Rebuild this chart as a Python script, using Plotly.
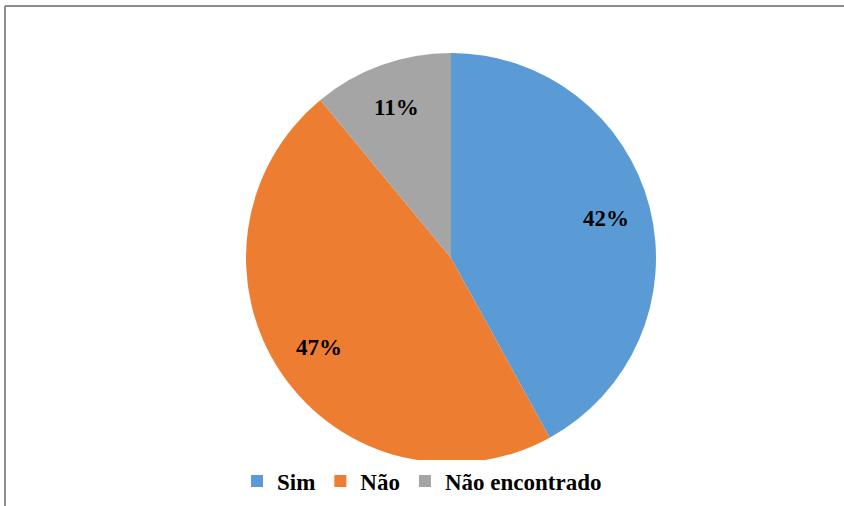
import math
import plotly.graph_objects as go

labels = ["Sim", "Não", "Não encontrado"]
values = [42, 47, 11]
colors = ["#5B9BD5", "#ED7D31", "#A5A5A5"]

W, H = 844, 506
font = "Liberation Serif"

# pie geometry in pixels
cx, cy, R = 451, 258, 205

fig = go.Figure()

fig.add_trace(
    go.Pie(
        labels=labels,
        values=values,
        sort=False,
        direction="clockwise",
        rotation=0,
        marker=dict(colors=colors, line=dict(width=0)),
        textinfo="none",
        domain=dict(x=[(cx - R) / W, (cx + R) / W], y=[(H - cy - R) / H, (H - cy + R) / H]),
        hoverinfo="label+percent",
    )
)

# percentage labels placed along each slice's mid angle
total = sum(values)
annotations = []
start = 0.0
for v in values:
    mid = (start + v / 2) / total * 2 * math.pi
    start += v
    px = cx + 0.78 * R * math.sin(mid)
    py = cy - 0.78 * R * math.cos(mid)
    annotations.append(
        dict(
            x=px / W, y=(H - py) / H, xref="paper", yref="paper",
            xanchor="center", yanchor="middle",
            text=f"{round(v / total * 100)}%", showarrow=False,
            font=dict(family=font, size=23, color="black", weight="bold"),
        )
    )

fig.update_layout(
    width=W,
    height=H,
    margin=dict(l=0, r=0, t=0, b=0),
    paper_bgcolor="white",
    plot_bgcolor="white",
    font=dict(family=font, size=23, color="black", weight="bold"),
    showlegend=True,
    legend=dict(
        orientation="h",
        x=0.5,
        xanchor="center",
        y=(H - 481) / H,
        yanchor="middle",
        itemwidth=30,
        font=dict(family=font, size=23, color="black", weight="bold"),
        traceorder="normal",
    ),
    annotations=annotations,
    shapes=[
        dict(type="line", xref="paper", yref="paper",
             x0=5 / W, x1=1.0, y0=(H - 6) / H, y1=(H - 6) / H,
             line=dict(color="#8C8C8C", width=2)),
        dict(type="line", xref="paper", yref="paper",
             x0=5 / W, x1=5 / W, y0=0, y1=(H - 6) / H,
             line=dict(color="#8C8C8C", width=2)),
    ],
)

fig.write_html(
    "out.html",
    config={"displayModeBar": False},
    post_script="document.body.style.margin='0';",
)
